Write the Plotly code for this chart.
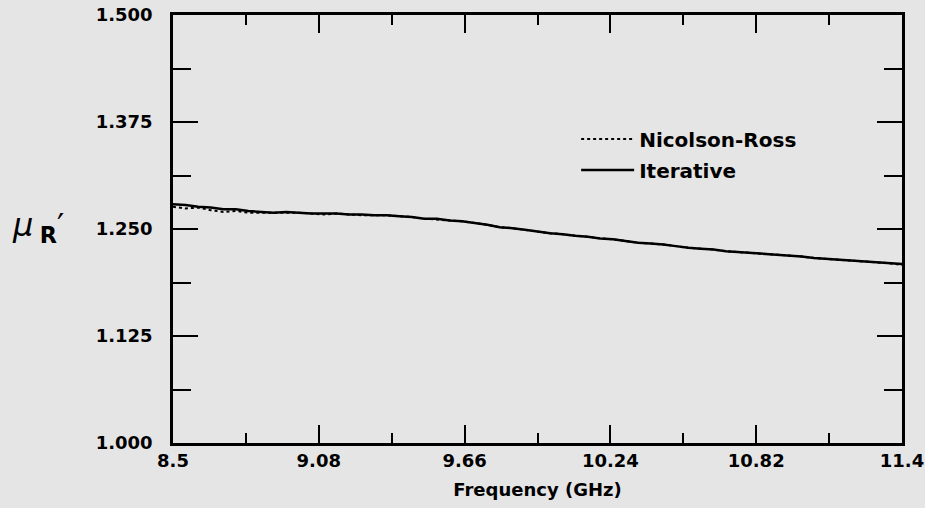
import plotly.graph_objects as go

# frequency grid (GHz)
freq = [8.50, 8.55, 8.60, 8.65, 8.70, 8.75, 8.80, 8.85, 8.90, 8.95,
        9.00, 9.05, 9.10, 9.15, 9.20, 9.25, 9.30, 9.35, 9.40, 9.45,
        9.50, 9.55, 9.60, 9.65, 9.70, 9.75, 9.80, 9.85, 9.90, 9.95,
        10.00, 10.05, 10.10, 10.15, 10.20, 10.25, 10.30, 10.35, 10.40, 10.45,
        10.50, 10.55, 10.60, 10.65, 10.70, 10.75, 10.80, 10.85, 10.90, 10.95,
        11.00, 11.05, 11.10, 11.15, 11.20, 11.25, 11.30, 11.35, 11.40]

# mu_R'
iterative = [1.279, 1.278, 1.276, 1.275, 1.273, 1.273, 1.271, 1.270, 1.269, 1.270,
             1.269, 1.268, 1.268, 1.268, 1.267, 1.267, 1.266, 1.266, 1.265, 1.264,
             1.262, 1.262, 1.260, 1.259, 1.257, 1.255, 1.252, 1.251, 1.249, 1.247,
             1.245, 1.244, 1.242, 1.241, 1.239, 1.238, 1.236, 1.234, 1.233, 1.232,
             1.230, 1.228, 1.227, 1.226, 1.224, 1.223, 1.222, 1.221, 1.220, 1.219,
             1.218, 1.216, 1.215, 1.214, 1.213, 1.212, 1.211, 1.210, 1.209]

nicolson_ross = [1.276, 1.274, 1.275, 1.272, 1.270, 1.271, 1.269, 1.269, 1.269, 1.269,
                 1.269, 1.268, 1.267, 1.268, 1.267, 1.266, 1.266, 1.266, 1.265, 1.264,
                 1.262, 1.261, 1.260, 1.259, 1.257, 1.255, 1.252, 1.251, 1.249, 1.247,
                 1.245, 1.244, 1.242, 1.241, 1.239, 1.238, 1.236, 1.234, 1.233, 1.232,
                 1.230, 1.228, 1.227, 1.226, 1.224, 1.223, 1.222, 1.221, 1.220, 1.219,
                 1.218, 1.216, 1.215, 1.214, 1.213, 1.212, 1.211, 1.210, 1.208]

x_ticks = [8.5, 9.08, 9.66, 10.24, 10.82, 11.4]
x_labels = ["8.5", "9.08", "9.66", "10.24", "10.82", "11.4"]
y_ticks = [1.0, 1.125, 1.25, 1.375, 1.5]
y_labels = ["1.000", "1.125", "1.250", "1.375", "1.500"]

bg = "#e5e5e5"
font = "DejaVu Sans"

fig = go.Figure()
fig.add_trace(go.Scatter(x=freq, y=nicolson_ross, name="Nicolson-Ross", mode="lines",
                         legendgroup="nr",
                         line=dict(color="black", width=2, dash="dot")))
fig.add_trace(go.Scatter(x=freq, y=iterative, name="Iterative", mode="lines",
                         legendgroup="it",
                         line=dict(color="black", width=2.5)))

fig.update_layout(
    width=925, height=508,
    margin=dict(l=173, r=23, t=15, b=65, autoexpand=False),
    paper_bgcolor=bg, plot_bgcolor=bg,
    font=dict(family=font, size=18, color="black", weight="bold"),
    showlegend=True,
    legend=dict(x=0.553, y=0.756, xanchor="left", yanchor="top", itemwidth=53,
                bgcolor="rgba(0,0,0,0)", font=dict(size=20, weight="bold"), tracegroupgap=2),
    xaxis=dict(
        range=[8.5, 11.4], tickvals=x_ticks, ticktext=x_labels,
        ticks="inside", ticklen=18, tickwidth=1.5, tickcolor="black",
        minor=dict(dtick=0.29, tick0=8.5, ticks="inside", ticklen=10, tickcolor="black", tickwidth=1.5),
        showline=True, linecolor="black", linewidth=2.5, mirror="ticks",
        showgrid=False, zeroline=False, automargin=False, tickfont=dict(size=18, weight="bold"),
        title=dict(text="Frequency (GHz)", standoff=14, font=dict(size=18, weight="bold")),
    ),
    yaxis=dict(
        range=[1.0, 1.5], tickvals=y_ticks, ticktext=y_labels,
        ticks="inside", ticklen=25, tickwidth=1.5, tickcolor="black",
        minor=dict(dtick=0.0625, tick0=1.0, ticks="inside", ticklen=18, tickcolor="black", tickwidth=1.5),
        showline=True, linecolor="black", linewidth=2.5, mirror="ticks",
        showgrid=False, zeroline=False, automargin=False, ticklabelstandoff=14,
        tickfont=dict(size=18, weight="bold"),
    ),
)

# y-axis symbol
fig.add_annotation(xref="paper", yref="paper", x=-0.185, y=0.505, xanchor="center", yanchor="middle",
                   text="<i>\u03bc</i>\u2009<sub><b>R</b></sub>\u2032", showarrow=False,
                   font=dict(family=font, size=32, color="black", weight="normal"))

fig.write_html("out.html", config={"displayModeBar": False},
               post_script="document.body.style.margin='0';")
